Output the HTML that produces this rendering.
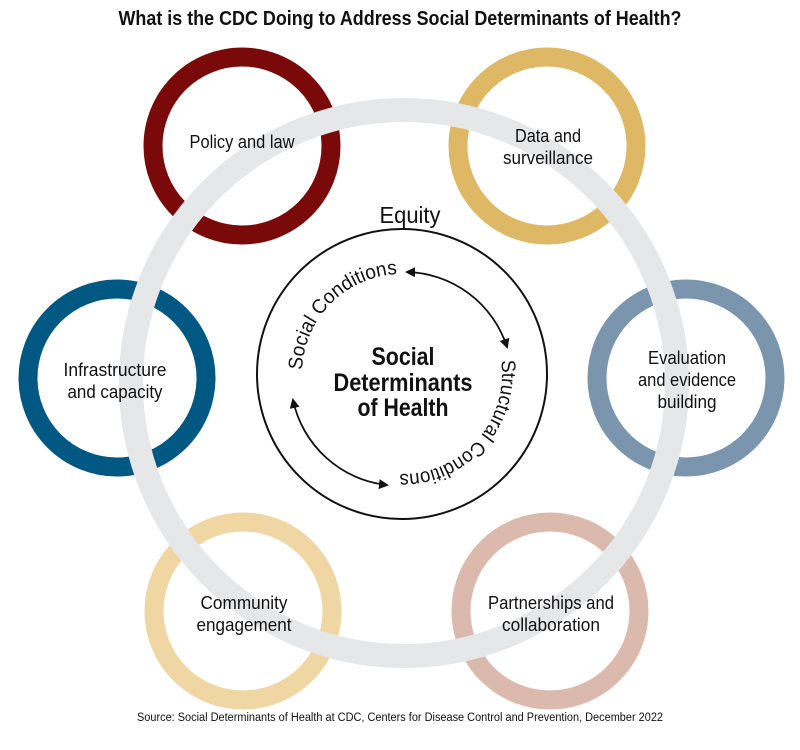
<!DOCTYPE html>
<html><head><meta charset="utf-8"><style>
html,body{margin:0;padding:0;background:#fff;}
svg{display:block;}
text{font-family:"Liberation Sans Narrow","Liberation Sans",sans-serif;fill:#111;}
</style></head><body>
<svg width="800" height="750" viewBox="0 0 800 750" xmlns="http://www.w3.org/2000/svg">
<defs>
<marker id="ah" viewBox="0 0 10 10" refX="8" refY="5" markerWidth="10" markerHeight="10" orient="auto-start-reverse" markerUnits="userSpaceOnUse">
<path d="M0,0 L10,5 L0,10 z" fill="#111"/>
</marker>
<path id="tp" d="M 302,374 A 100 100 0 1 1 502,374 A 100 100 0 1 1 302,374"/>
</defs>
<text x="400" y="25" text-anchor="middle" font-size="20" font-weight="bold" textLength="563" lengthAdjust="spacingAndGlyphs">What is the CDC Doing to Address Social Determinants of Health?</text>

<g fill="none" stroke-width="19">
<circle cx="242" cy="146" r="89" stroke="#7a0a0a"/>
<circle cx="547" cy="146" r="89" stroke="#dfb865"/>
<circle cx="117" cy="378" r="89" stroke="#005883"/>
<circle cx="686" cy="378" r="89" stroke="#7a95ad"/>
<circle cx="243" cy="611" r="89" stroke="#efd6a3"/>
<circle cx="550" cy="611" r="89" stroke="#dcb9ad"/>
</g>
<circle cx="404" cy="383" r="273" fill="none" stroke="#e6e7e9" stroke-width="24"/>

<circle cx="402" cy="374" r="145" fill="none" stroke="#111" stroke-width="2"/>
<path d="M 407,272 A 108 108 0 0 1 507,347" fill="none" stroke="#111" stroke-width="1.8" marker-start="url(#ah)" marker-end="url(#ah)"/>
<path d="M 293,400 A 108 108 0 0 0 387,485" fill="none" stroke="#111" stroke-width="1.8" marker-start="url(#ah)" marker-end="url(#ah)"/>

<text font-size="20"><textPath href="#tp" startOffset="4" textLength="148" lengthAdjust="spacingAndGlyphs">Social Conditions</textPath></text>
<text font-size="20"><textPath href="#tp" startOffset="300" textLength="173" lengthAdjust="spacingAndGlyphs">Structural Conditions</textPath></text>

<text x="410" y="223" text-anchor="middle" font-size="23" textLength="61" lengthAdjust="spacingAndGlyphs">Equity</text>
<g font-size="25" font-weight="bold" text-anchor="middle">
<text x="403" y="365" textLength="63" lengthAdjust="spacingAndGlyphs">Social</text>
<text x="403" y="391" textLength="139" lengthAdjust="spacingAndGlyphs">Determinants</text>
<text x="403" y="416" textLength="91" lengthAdjust="spacingAndGlyphs">of Health</text>
</g>

<g font-size="18.5" text-anchor="middle">
<text x="242" y="148" textLength="105" lengthAdjust="spacingAndGlyphs">Policy and law</text>
<text x="548" y="142" textLength="66" lengthAdjust="spacingAndGlyphs">Data and</text>
<text x="548" y="164" textLength="90" lengthAdjust="spacingAndGlyphs">surveillance</text>
<text x="115" y="376" textLength="103" lengthAdjust="spacingAndGlyphs">Infrastructure</text>
<text x="115" y="398" textLength="95" lengthAdjust="spacingAndGlyphs">and capacity</text>
<text x="687" y="364" textLength="78" lengthAdjust="spacingAndGlyphs">Evaluation</text>
<text x="687" y="386" textLength="98" lengthAdjust="spacingAndGlyphs">and evidence</text>
<text x="687" y="408" textLength="59" lengthAdjust="spacingAndGlyphs">building</text>
<text x="244" y="609" textLength="87" lengthAdjust="spacingAndGlyphs">Community</text>
<text x="244" y="631" textLength="95" lengthAdjust="spacingAndGlyphs">engagement</text>
<text x="551" y="609" textLength="126" lengthAdjust="spacingAndGlyphs">Partnerships and</text>
<text x="551" y="631" textLength="98" lengthAdjust="spacingAndGlyphs">collaboration</text>
</g>

<text x="400" y="721" text-anchor="middle" font-size="11.5" textLength="526" lengthAdjust="spacingAndGlyphs">Source: Social Determinants of Health at CDC, Centers for Disease Control and Prevention, December 2022</text>
</svg>
</body></html>
